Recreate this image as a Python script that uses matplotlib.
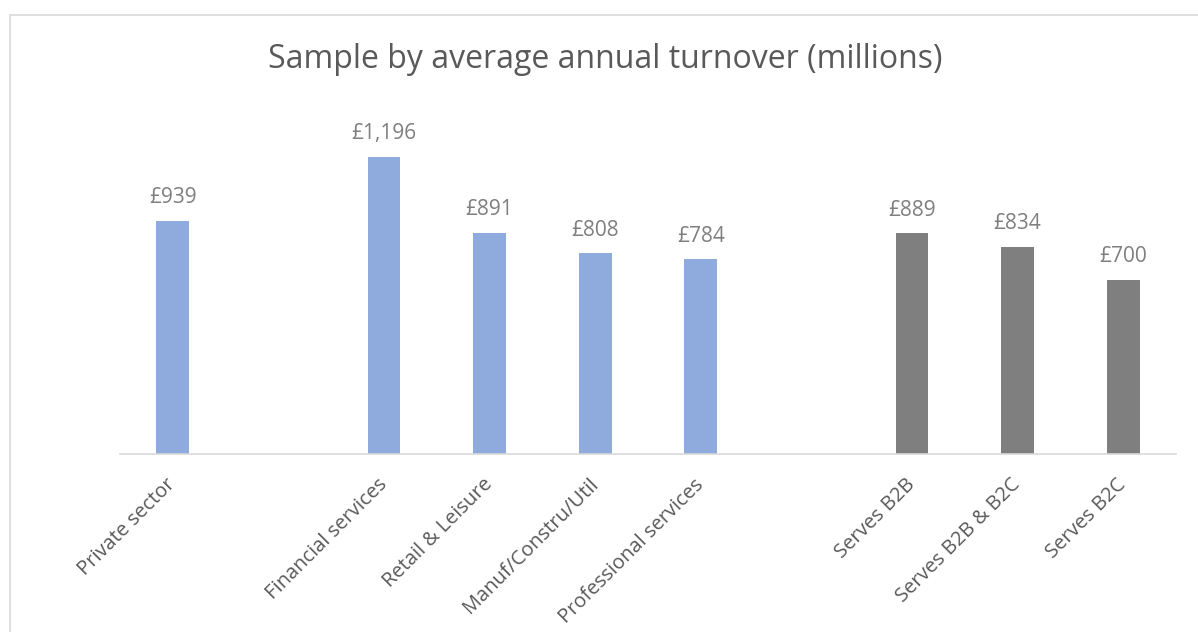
import matplotlib.pyplot as plt
from matplotlib.patches import Rectangle

plt.rcParams['font.family'] = ['Open Sans', 'DejaVu Sans']

# Average annual turnover (GBP millions); empty slots separate the groups
categories = ["Private sector", "", "Financial services", "Retail & Leisure",
              "Manuf/Constru/Util", "Professional services", "",
              "Serves B2B", "Serves B2B & B2C", "Serves B2C"]
values = [939, None, 1196, 891, 808, 784, None, 889, 834, 700]
groups = ["sector", None, "sector", "sector", "sector", "sector", None,
          "market", "market", "market"]

colors = {"sector": "#8FAADC", "market": "#7F7F7F"}

W, H = 1198, 632
fig = plt.figure(figsize=(W / 100, H / 100), dpi=100)
ax = fig.add_axes([120 / W, 1 - 454 / H, (1176 - 120) / W, 348 / H])

for i, (v, g) in enumerate(zip(values, groups)):
    if v is None:
        continue
    ax.bar(i, v, width=0.31, color=colors[g])
    ax.annotate(f"£{v:,}", (i, v), xytext=(0, 9), textcoords="offset points",
                ha="center", va="bottom", fontsize=15, color="#7F7F7F")

ax.set_xlim(-0.5, len(categories) - 0.5)
ax.set_ylim(0, 1400)
ax.set_yticks([])
ax.set_xticks(range(len(categories)))
ax.set_xticklabels(categories, rotation=45, ha="right", va="center",
                   rotation_mode="anchor", fontsize=14.5, color="#595959")
ax.tick_params(axis="x", length=0, pad=20)

for side in ["top", "right", "left"]:
    ax.spines[side].set_visible(False)
ax.spines["bottom"].set_color("#D9D9D9")
ax.spines["bottom"].set_linewidth(1.2)

# chart area frame, running off the right and bottom edges
fig.add_artist(Rectangle((9.5 / W, -0.1), 1.2, 1.1 - 14.5 / H,
                         transform=fig.transFigure, fill=False,
                         edgecolor="#D9D9D9", linewidth=1.2))

fig.text(605 / W, 1 - 60 / H, "Sample by average annual turnover (millions)",
         ha="center", va="center", fontsize=23, color="#595959")

fig.savefig("out.png", dpi=100)
